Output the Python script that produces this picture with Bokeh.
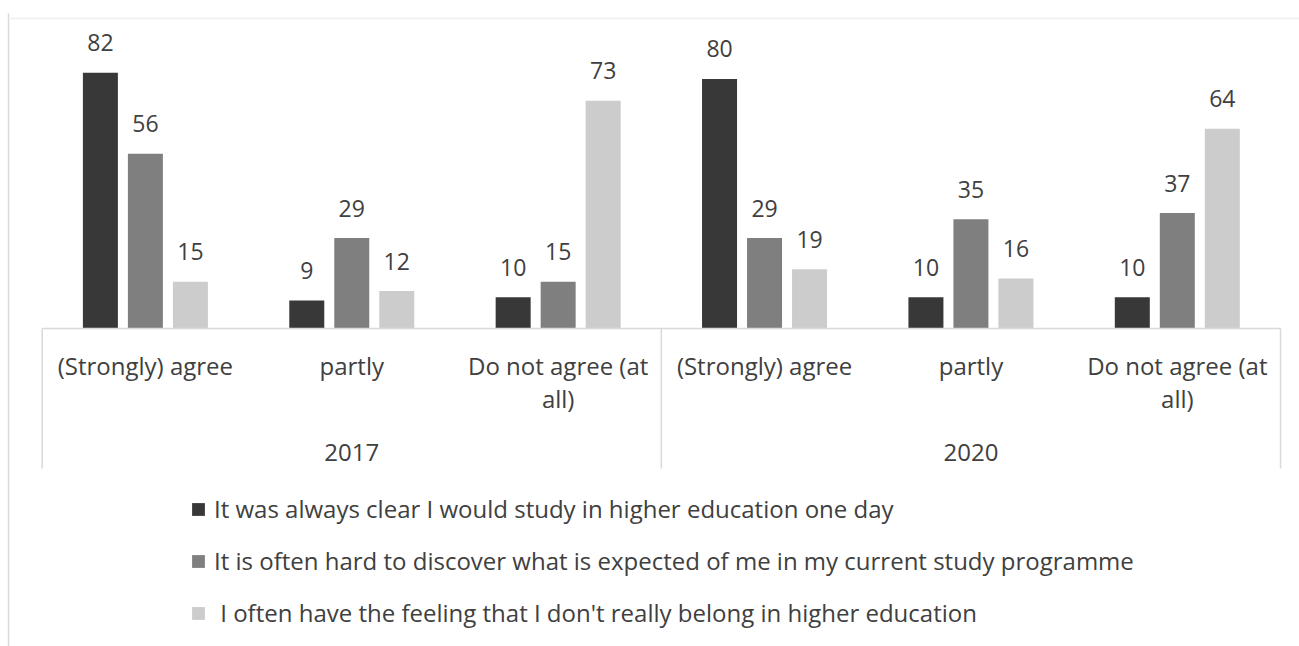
from bokeh.plotting import figure
from bokeh.models import Range1d, Legend, LegendItem, ColumnDataSource
from bokeh.transform import dodge
from bokeh.core.properties import value
from bokeh.embed import file_html
from bokeh.resources import INLINE

# ---------------- data ----------------
years = ["2017", "2020"]
answers = ["(Strongly) agree", "partly", "Do not agree (at all)"]
answer_lines = [["(Strongly) agree"], ["partly"], ["Do not agree (at", "all)"]]
series_names = [
    "It was always clear I would study in higher education one day",
    "It is often hard to discover what is expected of me in my current study programme",
    " I often have the feeling that I don't really belong in higher education",
]
always_clear = [82, 9, 10, 80, 10, 10]
hard_to_discover = [56, 29, 15, 29, 35, 37]
not_belong = [15, 12, 73, 19, 16, 64]
series_values = [always_clear, hard_to_discover, not_belong]
colors = ["#383838", "#7f7f7f", "#cccccc"]

# ---------------- layout ----------------
W, H = 1299, 646
X0, X1 = 41.7, 1280.0       # axis extent in px
BASE = 328.0                # baseline px from top
PXU = 3.12                  # px per value unit
n_cat = len(years) * len(answers)
unit = (X1 - X0) / n_cat

def xd(px):
    return (px - X0) / unit - 0.5

def yd(py):
    return (BASE - py) / PXU

FONT = value("Open Sans")
TXT = "#404040"
LINE = "#d9d9d9"

p = figure(width=W, height=H, x_range=Range1d(xd(0), xd(W)), y_range=Range1d(yd(H), yd(0)),
           output_backend="svg", toolbar_location=None, min_border=0,
           x_axis_type=None, y_axis_type=None, outline_line_color=None,
           background_fill_color="white", border_fill_color="white")
p.grid.visible = False

# outer chart frame (light)
p.segment(x0=[xd(8)], y0=[yd(13)], x1=[xd(8)], y1=[yd(H)], line_color="#d9d9d9", line_width=1.5)
p.segment(x0=[xd(8)], y0=[yd(18)], x1=[xd(W)], y1=[yd(18)], line_color="#f0f0f0", line_width=1.5)

idx = list(range(n_cat))
off = 45.0 / unit
bw = 35.0 / unit
label_gap = 30.0 / PXU

items = []
for s, (name, vals, col) in enumerate(zip(series_names, series_values, colors)):
    src = ColumnDataSource(dict(idx=idx, v=vals, lab=[str(v) for v in vals],
                                ly=[v + label_gap for v in vals]))
    r = p.vbar(x=dodge("idx", (s - 1) * off, range=p.x_range), top="v", bottom=0, width=bw,
               source=src, fill_color=col, line_color=None)
    p.text(x=dodge("idx", (s - 1) * off, range=p.x_range), y="ly", text="lab", source=src,
           text_font=FONT, text_font_size="23px", text_color=TXT,
           text_align="center", text_baseline="middle")
    items.append(LegendItem(label=name, renderers=[r]))

# baseline and separators
p.segment(x0=[-0.5], y0=[0], x1=[n_cat - 0.5], y1=[0], line_color=LINE, line_width=1.5)
bounds = [g * len(answers) - 0.5 for g in range(len(years) + 1)]
p.segment(x0=bounds, y0=[0] * len(bounds), x1=bounds, y1=[yd(468)] * len(bounds),
          line_color=LINE, line_width=1.5)

# category labels
l1x, l1t, l2x, l2t = [], [], [], []
for g in range(len(years)):
    for a, lines in enumerate(answer_lines):
        i = g * len(answers) + a
        l1x.append(i); l1t.append(lines[0])
        if len(lines) > 1:
            l2x.append(i); l2t.append(lines[1])
p.text(x=l1x, y=[yd(365)] * len(l1x), text=l1t, text_font=FONT, text_font_size="24px",
       text_color=TXT, text_align="center", text_baseline="middle")
p.text(x=l2x, y=[yd(398)] * len(l2x), text=l2t, text_font=FONT, text_font_size="24px",
       text_color=TXT, text_align="center", text_baseline="middle")
ycx = [g * len(answers) + (len(answers) - 1) / 2 for g in range(len(years))]
p.text(x=ycx, y=[yd(452)] * len(ycx), text=years, text_font=FONT, text_font_size="24px",
       text_color=TXT, text_align="center", text_baseline="middle")

legend = Legend(items=items, location=(190, 17), orientation="vertical",
                glyph_width=16, glyph_height=16, label_standoff=8, label_height=22,
                spacing=19, padding=0, margin=0, border_line_color=None,
                background_fill_alpha=0, label_text_font="Open Sans",
                label_text_font_size="24px", label_text_color=TXT)
p.add_layout(legend)

open("out.html", "w").write(file_html(p, INLINE))
